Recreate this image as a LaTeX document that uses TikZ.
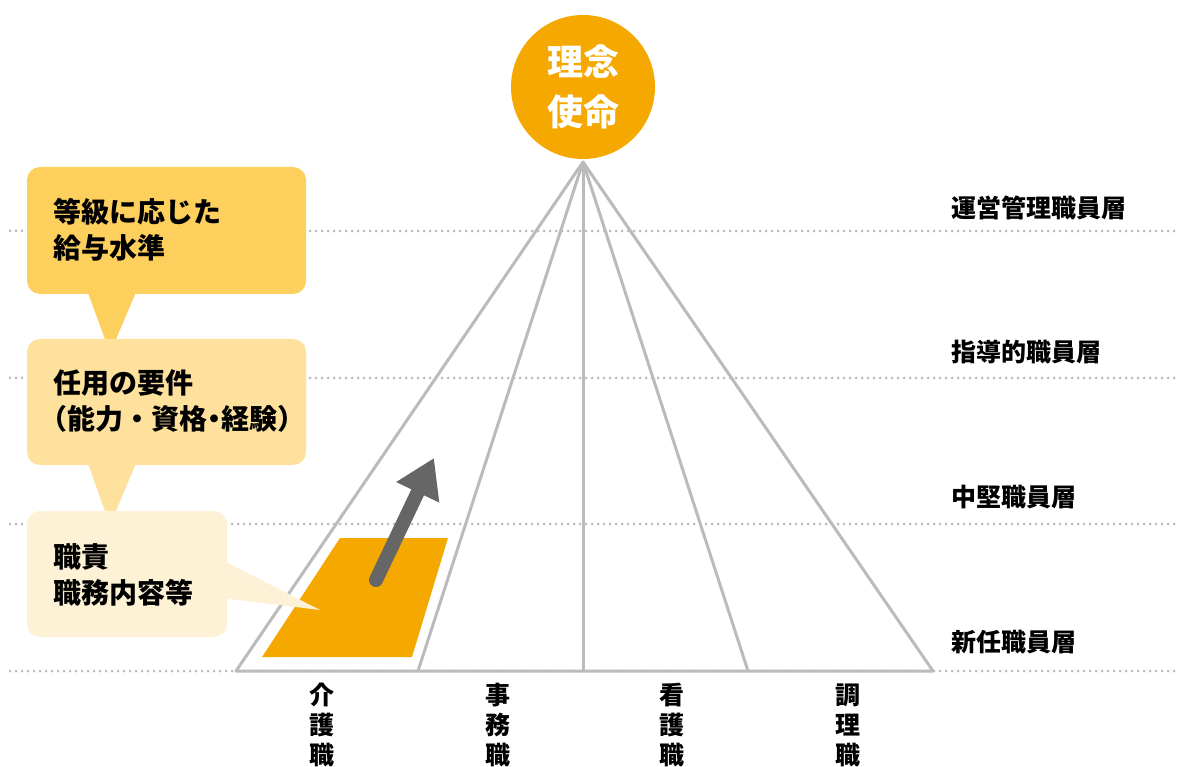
\documentclass[tikz,border=0pt]{standalone}
\usepackage{fontspec}
\setmainfont{Noto Sans CJK JP}
\usetikzlibrary{arrows.meta}
\definecolor{circorange}{HTML}{F5A800}
\definecolor{callA}{HTML}{FDD05E}
\definecolor{callB}{HTML}{FDE19C}
\definecolor{callC}{HTML}{FEF2D6}
\definecolor{linegray}{HTML}{BBBBBB}
\definecolor{arrowgray}{HTML}{666666}
\tikzset{
  dotline/.style={linegray, line width=3pt, line cap=round, dash pattern=on 0pt off 6pt},
  pyr/.style={linegray, line width=3pt},
  calltext/.style={anchor=west, align=left, inner sep=0pt, font=\bfseries\fontsize{28}{36}\selectfont},
  layer/.style={anchor=west, inner sep=0pt, font=\bfseries\fontsize{25}{30}\selectfont},
  job/.style={align=center, inner sep=0pt, font=\bfseries\fontsize{25}{30}\selectfont},
}
\begin{document}
\begin{tikzpicture}[x=1pt,y=-1pt]
\useasboundingbox (0,0) rectangle (1179,767);
% dotted layer lines
\foreach \yy in {231,378,524,671}{
  \draw[dotline] (10,\yy) -- (1179,\yy);
}
% pyramid
\coordinate (apex) at (583,162);
\coordinate (b0) at (236,671);
\coordinate (b1) at (418,671);
\coordinate (b2) at (583,671);
\coordinate (b3) at (748,671);
\coordinate (b4) at (933,671);
\draw[pyr, line join=round] (b0) -- (apex) -- (b4) -- cycle;
\draw[pyr] (apex) -- (b1);
\draw[pyr] (apex) -- (b2);
\draw[pyr] (apex) -- (b3);
% orange parallelogram
\fill[circorange] (262,657) -- (340,538) -- (448,538) -- (412,657) -- cycle;
% arrow
\coordinate (arrS) at (376,580);
\coordinate (arrE) at (434,458);
\draw[arrowgray, line width=14pt, line cap=round, -{Triangle[length=38pt,width=45pt]}] (arrS) -- (arrE);
% top circle
\node[circle, fill=circorange, minimum size=144pt, inner sep=0pt, text=white, align=center,
  font=\bfseries\fontsize{36}{50}\selectfont] (top) at (583,87) {理念\\使命};
% callouts
\fill[callA, rounded corners=13pt] (27,167) rectangle (306,294);
\fill[callA] (87,290) -- (110,353) -- (137,290) -- cycle;
\fill[callB, rounded corners=13pt] (27,339) rectangle (306,465);
\fill[callB] (87,461) -- (110,525) -- (137,461) -- cycle;
\fill[callC, rounded corners=13pt] (27,511) rectangle (227,637);
\fill[callC] (222,560) -- (320,610) -- (222,598) -- cycle;
\node[calltext] (c1) at (53,230) {等級に応じた\\給与水準};
\node[calltext] (c2) at (53,401.5) {任用の要件\\\hspace*{-0.5em}（能力・資格\hspace{-0.25em}・\hspace{-0.25em}経験）};
\node[calltext] (c3) at (53,574.5) {職責\\職務内容等};
% layer labels
\node[layer] (l1) at (951,208) {運営管理職員層};
\node[layer] (l2) at (951,352) {指導的職員層};
\node[layer] (l3) at (951,497) {中堅職員層};
\node[layer] (l4) at (951,642) {新任職員層};
% job labels
\node[job] (j1) at (322,725) {介\\護\\職};
\node[job] (j2) at (498,725) {事\\務\\職};
\node[job] (j3) at (672,725) {看\\護\\職};
\node[job] (j4) at (848,725) {調\\理\\職};
\end{tikzpicture}
\end{document}
